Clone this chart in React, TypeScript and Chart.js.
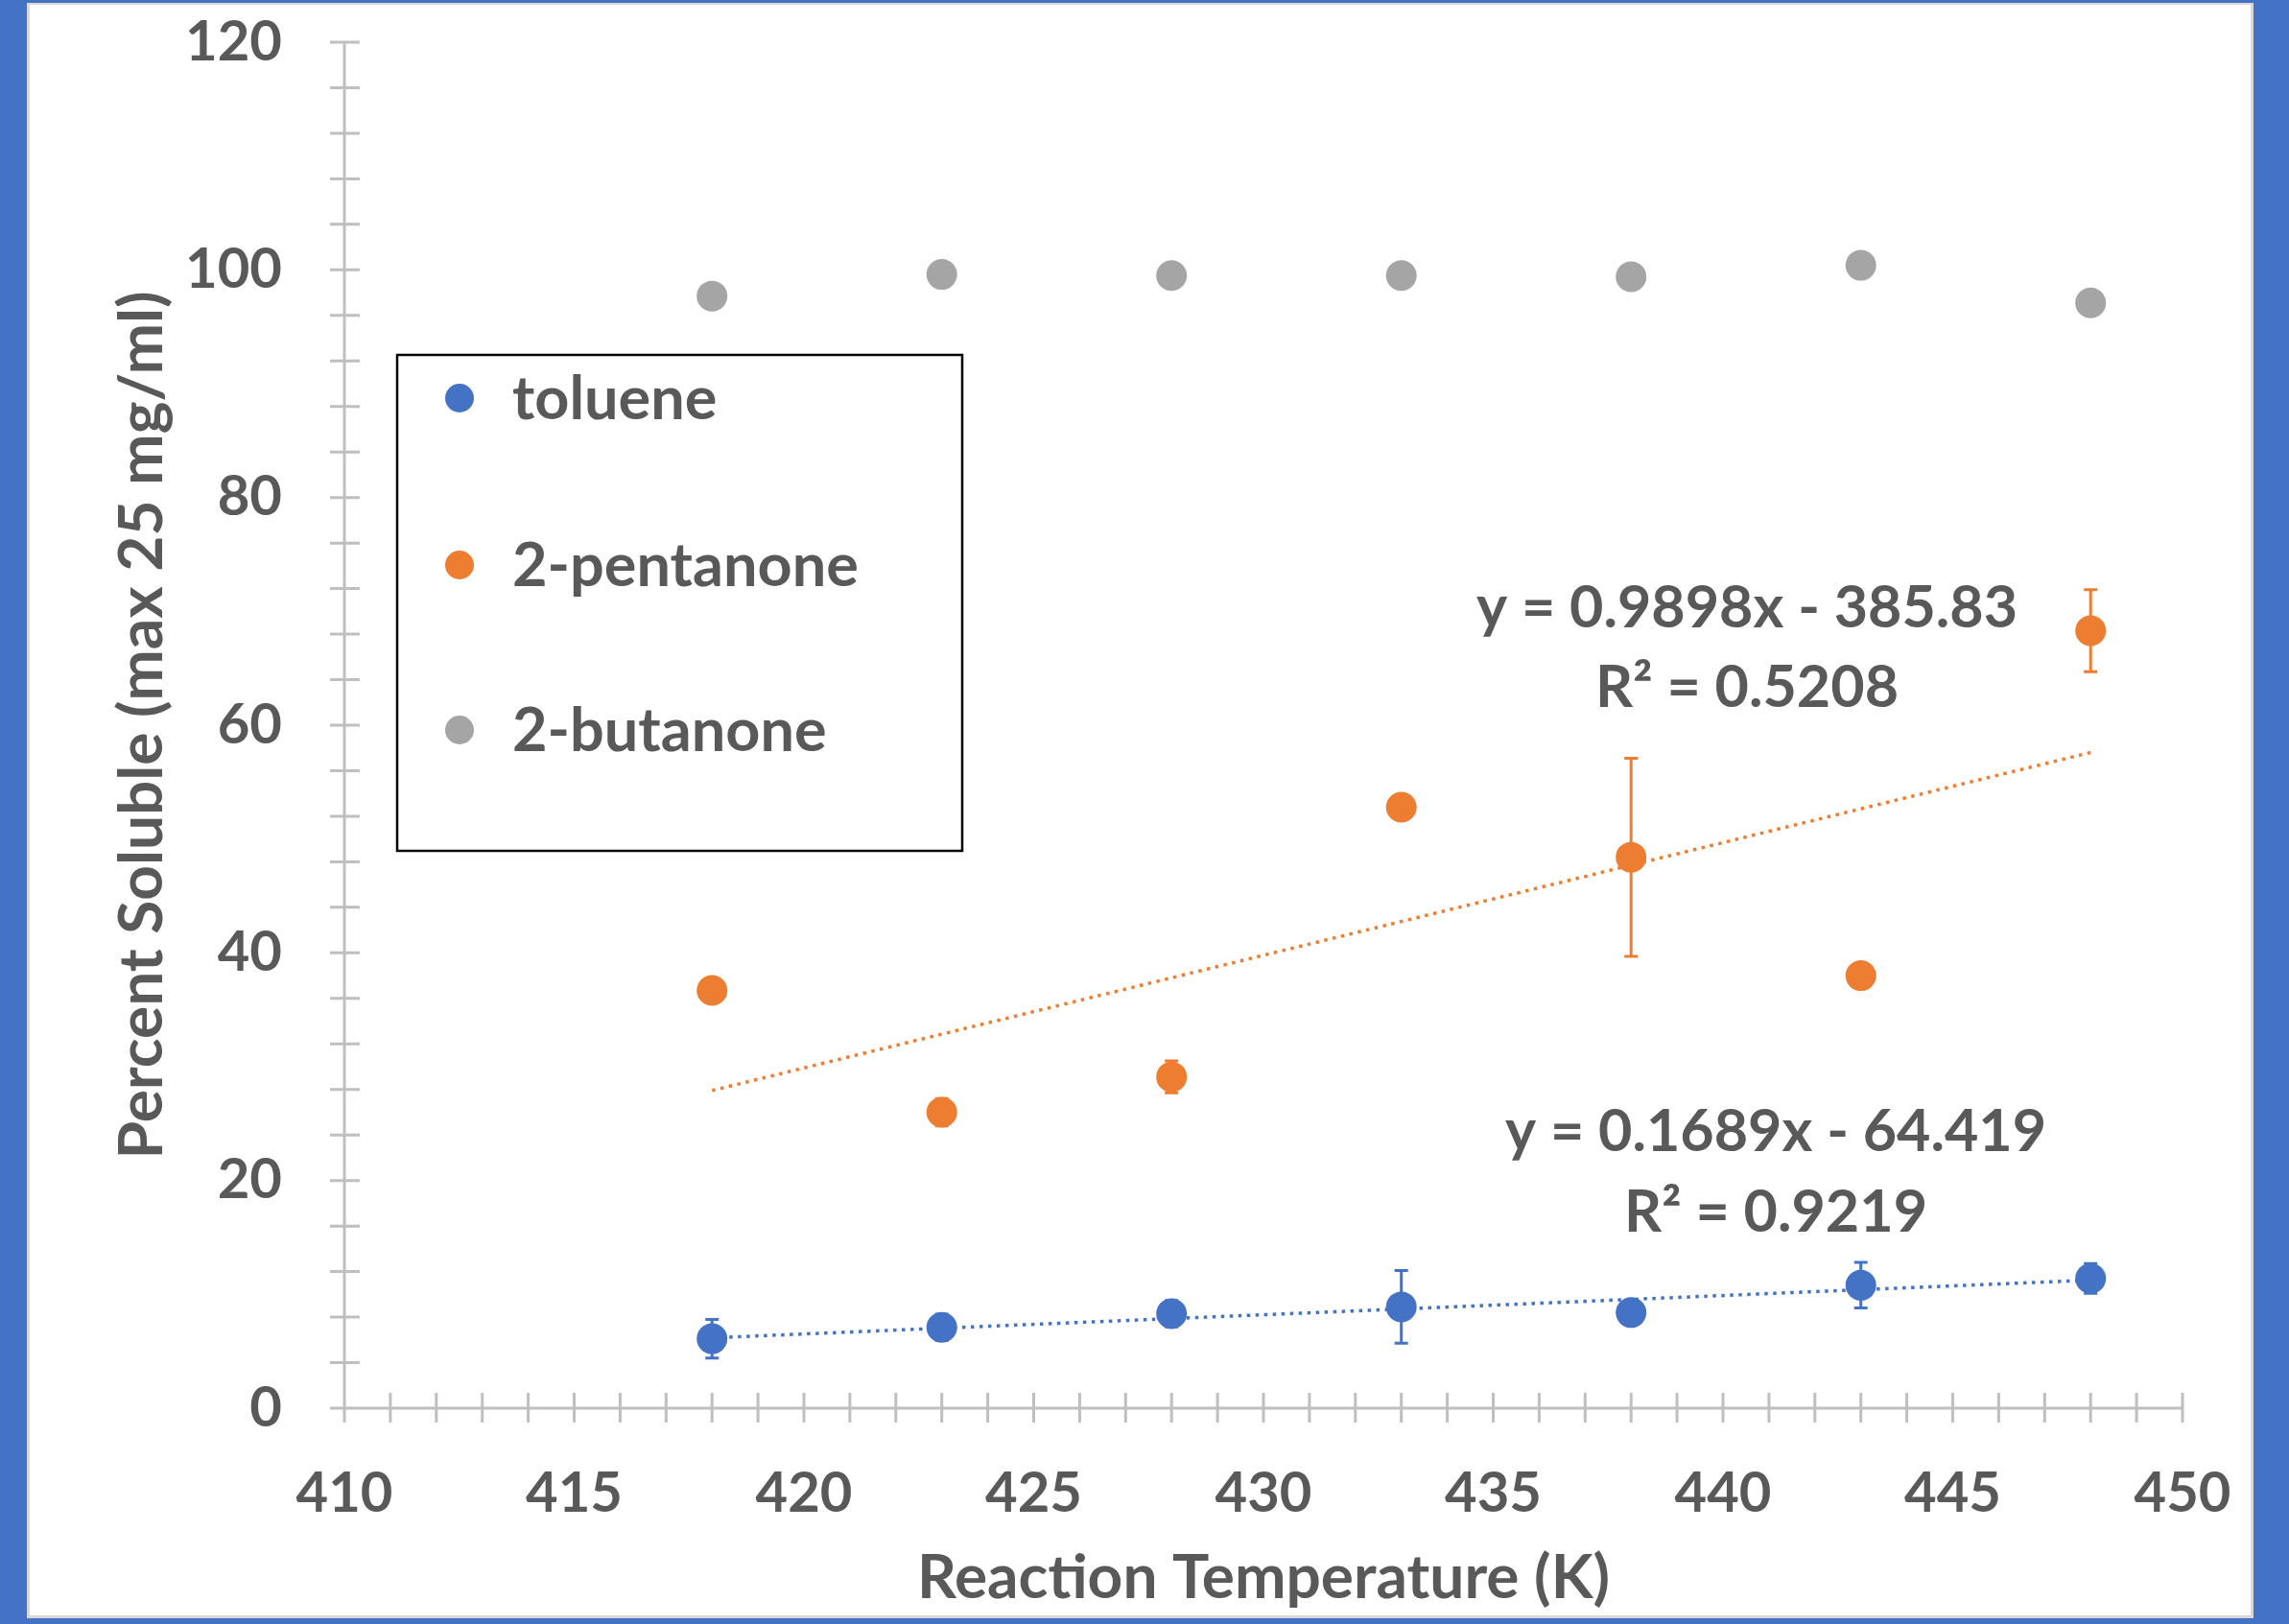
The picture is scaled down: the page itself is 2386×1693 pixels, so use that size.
import React, { useEffect, useRef } from "react";
import { Chart, registerables } from "chart.js";

Chart.register(...registerables);

// ---- data ----
const temperatures = [418, 423, 428, 433, 438, 443, 448];
const tolueneValues = [6.1, 7.1, 8.3, 8.9, 8.4, 10.8, 11.4];
const tolueneErrors = [1.7, 1.15, 1.15, 3.2, 0.8, 2.0, 1.3];
const pentanoneValues = [36.7, 26.0, 29.1, 52.8, 48.4, 38.0, 68.3];
const pentanoneErrors = [0.5, 1.2, 1.4, 0.5, 8.7, 0.5, 3.6];
const butanoneValues = [97.7, 99.6, 99.5, 99.5, 99.4, 100.4, 97.1];

const seriesNames = ["toluene", "2-pentanone", "2-butanone"];
const seriesColors = ["#4472C4", "#ED7D31", "#A5A5A5"];

const trendSlopes = [0.1689, 0.9898];
const trendIntercepts = [-64.419, -385.83];
const trendEquations = ["y = 0.1689x - 64.419", "y = 0.9898x - 385.83"];
const trendR2 = ["R² = 0.9219", "R² = 0.5208"];

const xTitle = "Reaction Temperature (K)";
const yTitle = "Percent Soluble (max 25 mg/ml)";
const xMin = 410, xMax = 450, xLabelStep = 5;
const yMin = 0, yMax = 120, yLabelStep = 20;

// ---- style ----
const W = 2386, H = 1693;
const FONT = "Lato, 'Open Sans', sans-serif";
const TEXT = "#595959";
const AXIS = "#BFBFBF";

const pts = (vals: number[]) => temperatures.map((t, i) => ({ x: t, y: vals[i] }));
const trendPts = (k: number) => {
  const x0 = temperatures[0], x1 = temperatures[temperatures.length - 1];
  return [
    { x: x0, y: trendSlopes[k] * x0 + trendIntercepts[k] },
    { x: x1, y: trendSlopes[k] * x1 + trendIntercepts[k] },
  ];
};

const decoPlugin = {
  id: "deco",
  beforeDraw(chart: any) {
    const ctx = chart.ctx;
    ctx.save();
    ctx.fillStyle = "#4472C4";
    ctx.fillRect(0, 0, W, H);
    ctx.fillStyle = "#D9D9D9";
    ctx.fillRect(28, 3, 2321, 1684);
    ctx.fillStyle = "#FFFFFF";
    ctx.fillRect(31, 5, 2315, 1679);
    ctx.restore();
  },
  beforeDatasetsDraw(chart: any) {
    const ctx = chart.ctx;
    const xs = chart.scales.x, ys = chart.scales.y;
    const x0 = xs.getPixelForValue(xMin), x1 = xs.getPixelForValue(xMax);
    const y0 = ys.getPixelForValue(yMin), y1 = ys.getPixelForValue(yMax);
    ctx.save();
    ctx.strokeStyle = AXIS;
    ctx.lineWidth = 3;
    ctx.beginPath();
    ctx.moveTo(x0, y0); ctx.lineTo(x1, y0);
    ctx.moveTo(x0, y0); ctx.lineTo(x0, y1);
    for (const t of xs.ticks) {
      const px = xs.getPixelForValue(t.value);
      ctx.moveTo(px, y0 - 16); ctx.lineTo(px, y0 + 15);
    }
    for (const t of ys.ticks) {
      const py = ys.getPixelForValue(t.value);
      ctx.moveTo(x0 - 15, py); ctx.lineTo(x0 + 16, py);
    }
    ctx.stroke();
    // error bars
    const errSets = [
      { vals: tolueneValues, errs: tolueneErrors, color: seriesColors[0] },
      { vals: pentanoneValues, errs: pentanoneErrors, color: seriesColors[1] },
    ];
    ctx.lineWidth = 3;
    for (const s of errSets) {
      ctx.strokeStyle = s.color;
      ctx.beginPath();
      temperatures.forEach((t, i) => {
        const px = xs.getPixelForValue(t);
        const pt = ys.getPixelForValue(s.vals[i] + s.errs[i]);
        const pb = ys.getPixelForValue(s.vals[i] - s.errs[i]);
        ctx.moveTo(px, pt); ctx.lineTo(px, pb);
        ctx.moveTo(px - 7, pt); ctx.lineTo(px + 7, pt);
        ctx.moveTo(px - 7, pb); ctx.lineTo(px + 7, pb);
      });
      ctx.stroke();
    }
    ctx.restore();
  },
  afterDatasetsDraw(chart: any) {
    const ctx = chart.ctx;
    ctx.save();
    // legend box
    ctx.strokeStyle = "#000000";
    ctx.lineWidth = 2.5;
    ctx.strokeRect(414, 370, 589, 517);
    const rows = [415, 589, 761];
    ctx.font = `bold 63px ${FONT}`;
    ctx.textBaseline = "middle";
    ctx.textAlign = "left";
    seriesNames.forEach((n, i) => {
      ctx.fillStyle = seriesColors[i];
      ctx.beginPath();
      ctx.arc(479, rows[i], 15, 0, Math.PI * 2);
      ctx.fill();
      ctx.fillStyle = TEXT;
      ctx.fillText(n, 534, rows[i] + 2);
    });
    // trendline labels
    ctx.textAlign = "center";
    ctx.font = `bold 61px ${FONT}`;
    ctx.fillStyle = TEXT;
    ctx.fillText(trendEquations[1], 1821, 634);
    ctx.fillText(trendR2[1], 1821, 717);
    ctx.fillText(trendEquations[0], 1851, 1180);
    ctx.fillText(trendR2[0], 1851, 1264);
    ctx.restore();
  },
};

export default function App() {
  const ref = useRef<HTMLCanvasElement | null>(null);
  useEffect(() => {
    if (!ref.current) return;
    const tickFont = { family: FONT, size: 58, weight: "bold" as const };
    const chart = new Chart(ref.current, {
      type: "scatter",
      data: {
        datasets: [
          { label: seriesNames[0], data: pts(tolueneValues), backgroundColor: seriesColors[0], borderColor: seriesColors[0], pointRadius: 16, pointBorderWidth: 0, order: 0 },
          { label: seriesNames[1], data: pts(pentanoneValues), backgroundColor: seriesColors[1], borderColor: seriesColors[1], pointRadius: 16, pointBorderWidth: 0, order: 0 },
          { label: seriesNames[2], data: pts(butanoneValues), backgroundColor: seriesColors[2], borderColor: seriesColors[2], pointRadius: 16, pointBorderWidth: 0, order: 0 },
          { label: "trend toluene", data: trendPts(0), showLine: true, borderColor: seriesColors[0], borderWidth: 3.5, borderDash: [3.5, 5.5], pointRadius: 0, order: 10 },
          { label: "trend 2-pentanone", data: trendPts(1), showLine: true, borderColor: seriesColors[1], borderWidth: 3.5, borderDash: [3.5, 5.5], pointRadius: 0, order: 10 },
        ] as any,
      },
      options: {
        responsive: false,
        animation: false,
        devicePixelRatio: 1,
        layout: { padding: { left: 0, top: 44, right: 111, bottom: 0 } },
        plugins: { legend: { display: false }, tooltip: { enabled: false } },
        scales: {
          x: {
            type: "linear",
            min: xMin,
            max: xMax,
            afterFit: (s: any) => { s.height = 225; s.paddingLeft = 0; s.paddingRight = 0; },
            grid: { display: false, drawTicks: false },
            border: { display: false },
            ticks: {
              stepSize: 1,
              autoSkip: false,
              maxRotation: 0,
              padding: 54,
              color: TEXT,
              font: tickFont,
              callback: (v: any) => (Number(v) % xLabelStep === 0 ? String(v) : ""),
            },
            title: { display: true, text: xTitle, color: TEXT, font: { family: FONT, size: 64, weight: "bold" }, padding: { top: 0, bottom: 9 } },
          },
          y: {
            min: yMin,
            max: yMax,
            afterFit: (s: any) => { s.width = 359; s.paddingTop = 0; s.paddingBottom = 0; },
            grid: { display: false, drawTicks: false },
            border: { display: false },
            ticks: {
              stepSize: 4,
              autoSkip: false,
              padding: 65,
              color: TEXT,
              font: tickFont,
              callback: (v: any) => (Number(v) % yLabelStep === 0 ? String(v) : ""),
            },
            title: { display: true, text: yTitle, color: TEXT, font: { family: FONT, size: 64, weight: "bold" }, padding: { top: 110, bottom: 0 } },
          },
        },
      } as any,
      plugins: [decoPlugin as any],
    });
    return () => chart.destroy();
  }, []);
  return (
    <div style={{ position: "fixed", left: 0, top: 0, width: W, height: H }}>
      <canvas ref={ref} width={W} height={H} style={{ width: W, height: H, display: "block" }} />
    </div>
  );
}
